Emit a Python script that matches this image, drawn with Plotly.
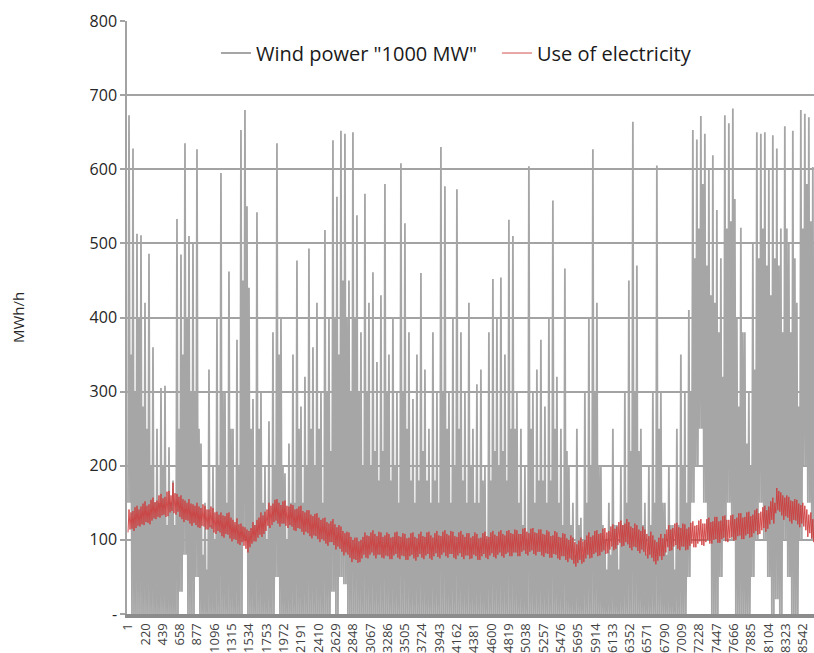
import plotly.graph_objects as go

# ---- data ----
tick_hours = [1, 220, 439, 658, 877, 1096, 1315, 1534, 1753, 1972, 2191, 2410, 2629, 2848,
              3067, 3286, 3505, 3724, 3943, 4162, 4381, 4600, 4819, 5038, 5257, 5476, 5695,
              5914, 6133, 6352, 6571, 6790, 7009, 7228, 7447, 7666, 7885, 8104, 8323, 8542]
tick_labels = [str(h) for h in tick_hours]

y_ticks = [0, 100, 200, 300, 400, 500, 600, 700, 800]
y_labels = ["-", "100", "200", "300", "400", "500", "600", "700", "800"]

COLUMN_HOURS = 50.6  # one sampled block of hours

# column maxima of wind power
wind_high = [
    673, 628, 513, 511, 420, 486, 360, 250, 305, 308,
    225, 180, 533, 485, 635, 510, 500, 627, 230, 150,
    330, 200, 400, 595, 300, 462, 250, 370, 653, 680,
    440, 290, 542, 300, 200, 260, 380, 635, 400, 190,
    230, 350, 477, 280, 320, 493, 360, 420, 300, 518,
    400, 639, 563, 652, 648, 450, 650, 538, 380, 567,
    420, 461, 340, 430, 580, 350, 400, 300, 608, 527,
    380, 290, 350, 460, 330, 250, 380, 300, 630, 577,
    300, 400, 573, 380, 300, 420, 250, 310, 330, 200,
    380, 452, 400, 454, 350, 532, 510, 300, 250, 200,
    604, 300, 330, 370, 280, 400, 558, 320, 250, 466,
    200, 150, 250, 130, 300, 400, 627, 420, 200, 100,
    150, 250, 120, 200, 300, 450, 664, 470, 250, 150,
    200, 300, 605, 300, 150, 200, 120, 250, 350, 300,
    410, 653, 640, 672, 648, 600, 619, 545, 480, 673,
    662, 682, 400, 521, 380, 300, 500, 650, 648, 650,
    600, 646, 628, 520, 658, 500, 652, 420, 680, 675,
    670, 603]

# secondary (smaller) wind peaks inside each column
wind_mid = [
    350, 300, 400, 280, 250, 200, 150, 150, 200, 120,
    150, 120, 250, 350, 400, 300, 300, 250, 80, 60,
    120, 100, 200, 300, 150, 250, 120, 200, 450, 550,
    250, 120, 250, 150, 100, 120, 200, 350, 200, 100,
    150, 150, 250, 150, 200, 250, 200, 250, 150, 300,
    220, 400, 350, 450, 400, 300, 400, 300, 200, 300,
    200, 220, 180, 220, 300, 180, 200, 150, 300, 250,
    180, 150, 180, 220, 180, 150, 180, 150, 300, 250,
    150, 200, 250, 180, 150, 200, 150, 150, 180, 100,
    180, 220, 200, 220, 180, 250, 250, 150, 120, 100,
    250, 150, 180, 180, 150, 180, 250, 150, 120, 220,
    120, 80, 120, 80, 150, 200, 300, 200, 120, 60,
    80, 120, 60, 120, 150, 220, 300, 220, 120, 80,
    120, 150, 250, 150, 80, 120, 60, 120, 200, 150,
    300, 480, 520, 580, 470, 430, 420, 380, 320, 520,
    530, 560, 280, 380, 230, 200, 330, 480, 520, 470,
    430, 480, 470, 380, 520, 380, 480, 280, 520, 580,
    530, 430]

# column minima of wind power
wind_low = [
    150, 0, 0, 0, 0, 0, 0, 0, 0, 0,
    0, 0, 0, 30, 80, 0, 0, 50, 0, 0,
    0, 0, 0, 0, 0, 0, 0, 0, 0, 100,
    0, 0, 0, 0, 0, 0, 0, 50, 0, 0,
    0, 0, 0, 0, 0, 0, 0, 0, 0, 0,
    0, 30, 0, 50, 40, 0, 0, 0, 0, 0,
    0, 0, 0, 0, 0, 0, 0, 0, 0, 0,
    0, 0, 0, 0, 0, 0, 0, 0, 0, 0,
    0, 0, 0, 0, 0, 0, 0, 0, 0, 0,
    0, 0, 0, 0, 0, 0, 0, 0, 0, 0,
    0, 0, 0, 0, 0, 0, 0, 0, 0, 0,
    0, 0, 0, 0, 0, 0, 0, 0, 0, 0,
    0, 0, 0, 0, 0, 0, 0, 0, 0, 0,
    0, 0, 0, 0, 0, 0, 0, 0, 0, 0,
    50, 150, 200, 250, 150, 100, 0, 0, 50, 100,
    150, 100, 0, 0, 0, 0, 50, 100, 150, 100,
    50, 0, 20, 0, 100, 50, 0, 0, 100, 200,
    150, 100]

# use of electricity: daily swing, four readings per column (low, high, low, high)
use_values = [
    110, 141, 114, 137, 115, 139, 112, 144,
    116, 146, 119, 141, 118, 145, 121, 149,
    120, 152, 124, 146, 123, 148, 121, 154,
    126, 157, 129, 151, 128, 153, 131, 160,
    130, 162, 133, 156, 134, 158, 131, 165,
    132, 166, 137, 160, 139, 177, 136, 163,
    134, 162, 138, 158, 131, 160, 128, 155,
    124, 153, 127, 150, 126, 155, 122, 149,
    119, 148, 123, 146, 120, 150, 117, 145,
    116, 143, 119, 148, 118, 146, 114, 141,
    114, 141, 117, 145, 115, 143, 110, 137,
    108, 138, 112, 134, 110, 137, 105, 133,
    103, 132, 108, 136, 107, 137, 102, 130,
    98, 127, 101, 124, 100, 129, 95, 121,
    93, 122, 97, 118, 92, 117, 88, 114,
    83, 112, 90, 116, 95, 124, 98, 120,
    98, 127, 103, 130, 107, 137, 104, 133,
    108, 138, 112, 141, 119, 150, 116, 146,
    120, 149, 124, 154, 126, 155, 122, 150,
    118, 147, 122, 152, 122, 153, 119, 146,
    116, 145, 120, 148, 118, 147, 113, 141,
    112, 142, 116, 145, 115, 146, 111, 139,
    107, 137, 111, 140, 109, 140, 105, 134,
    102, 132, 106, 135, 105, 136, 101, 130,
    97, 127, 101, 129, 99, 130, 95, 124,
    92, 122, 97, 125, 97, 128, 93, 121,
    87, 117, 91, 120, 88, 118, 84, 112,
    79, 109, 83, 111, 80, 110, 76, 104,
    70, 100, 74, 103, 73, 103, 69, 98,
    70, 100, 75, 104, 80, 110, 76, 106,
    75, 105, 80, 110, 83, 113, 79, 108,
    75, 105, 80, 111, 80, 110, 76, 104,
    75, 106, 79, 110, 78, 108, 74, 103,
    74, 104, 79, 110, 81, 111, 76, 105,
    74, 104, 79, 109, 78, 108, 73, 102,
    73, 103, 78, 109, 80, 110, 75, 104,
    72, 102, 77, 108, 81, 111, 76, 105,
    74, 104, 79, 110, 81, 111, 75, 106,
    73, 103, 78, 109, 82, 112, 77, 106,
    75, 105, 80, 111, 83, 113, 78, 108,
    76, 106, 81, 112, 81, 111, 76, 105,
    74, 104, 79, 110, 82, 112, 77, 107,
    74, 104, 79, 109, 79, 109, 74, 103,
    75, 105, 80, 110, 78, 108, 73, 102,
    73, 103, 78, 109, 81, 111, 76, 105,
    74, 104, 79, 110, 82, 112, 77, 107,
    75, 105, 80, 111, 83, 113, 78, 108,
    76, 106, 81, 112, 83, 113, 78, 109,
    78, 108, 83, 114, 83, 113, 78, 108,
    78, 108, 84, 115, 86, 116, 81, 111,
    79, 109, 84, 115, 86, 116, 81, 110,
    79, 109, 84, 114, 84, 114, 79, 108,
    77, 107, 82, 113, 81, 111, 76, 105,
    76, 106, 81, 112, 80, 110, 75, 104,
    73, 103, 78, 109, 78, 108, 73, 102,
    70, 100, 75, 106, 73, 103, 68, 97,
    64, 94, 69, 99, 73, 103, 68, 98,
    70, 100, 75, 106, 80, 110, 75, 104,
    76, 106, 81, 112, 83, 113, 78, 108,
    79, 109, 84, 115, 86, 116, 81, 110,
    82, 112, 87, 118, 91, 121, 86, 115,
    88, 118, 93, 124, 96, 126, 91, 120,
    92, 122, 97, 128, 94, 124, 89, 118,
    86, 116, 91, 122, 90, 120, 85, 114,
    82, 112, 87, 118, 84, 114, 79, 108,
    75, 105, 80, 111, 76, 106, 71, 100,
    67, 97, 72, 103, 78, 108, 73, 102,
    78, 108, 83, 114, 90, 120, 85, 114,
    86, 116, 91, 122, 93, 123, 88, 117,
    86, 116, 91, 122, 91, 121, 86, 115,
    87, 117, 92, 123, 95, 125, 90, 119,
    90, 120, 95, 126, 98, 128, 93, 122,
    92, 122, 97, 128, 100, 130, 95, 124,
    95, 125, 100, 131, 101, 131, 96, 125,
    96, 126, 101, 132, 103, 133, 98, 127,
    97, 127, 102, 133, 104, 134, 99, 128,
    100, 130, 105, 136, 106, 136, 101, 130,
    101, 131, 106, 137, 108, 138, 103, 132,
    104, 134, 109, 140, 112, 142, 107, 136,
    108, 138, 113, 144, 116, 146, 111, 140,
    115, 145, 121, 152, 127, 157, 122, 150,
    136, 170, 140, 166, 138, 164, 133, 160,
    127, 157, 132, 160, 130, 158, 125, 153,
    122, 152, 127, 155, 126, 154, 121, 149,
    117, 147, 122, 150, 118, 146, 113, 141,
    104, 134, 109, 137, 102, 128, 97, 122]


def wind_path(lows, highs, mids):
    xs, ys = [], []
    for i, (lo, hi, mid) in enumerate(zip(lows, highs, mids)):
        start = 1 + i * COLUMN_HOURS
        xs += [start, start + COLUMN_HOURS * 0.25, start + COLUMN_HOURS * 0.5,
               start + COLUMN_HOURS * 0.75]
        ys += [lo, hi, lo, mid]
    return xs, ys


wx, wy = wind_path(wind_low, wind_high, wind_mid)
ux = [1 + k * COLUMN_HOURS / 4 for k in range(len(use_values))]

FONT = "Open Sans"
fig = go.Figure()
fig.add_trace(go.Scatter(x=wx, y=wy, mode="lines", name='Wind power "1000 MW"',
                         line=dict(color="#a6a6a6", width=1.8)))
fig.add_trace(go.Scatter(x=ux, y=use_values, mode="lines", name="Use of electricity",
                         line=dict(color="#cf3b3b", width=0.9)))

fig.update_layout(
    width=814, height=653,
    margin=dict(l=127, r=0, t=21, b=39),
    paper_bgcolor="white", plot_bgcolor="white",
    font=dict(family=FONT, color="#262626"),
    showlegend=True,
    legend=dict(orientation="h", x=0.1295, xanchor="left", y=0.946, yanchor="middle",
                font=dict(size=20, color="#1a1a1a"), bgcolor="rgba(255,255,255,0)",
                itemwidth=30, entrywidth=236, entrywidthmode="pixels"),
    xaxis=dict(range=[-11.6, 8681], tickmode="array", tickvals=tick_hours,
               ticktext=tick_labels, tickangle=-90, tickfont=dict(size=13, color="#404040"),
               showgrid=False, zeroline=False, showline=True, linecolor="#8c8c8c",
               linewidth=4, ticks="", fixedrange=True, automargin=False),
    yaxis=dict(range=[0, 800], tickmode="array", tickvals=y_ticks,
               ticktext=y_labels,
               tickfont=dict(size=16, color="#262626"), showgrid=True, gridcolor="#a3a3a3",
               gridwidth=2, zeroline=False, showline=True, linecolor="#a3a3a3", linewidth=1.5,
               ticks="outside", ticklen=5, tickcolor="#a3a3a3", tickwidth=1.5,
               automargin=False, fixedrange=True,
               title=dict(text="MWh/h", font=dict(size=15, color="#262626"), standoff=61)),
)

fig.write_html("out.html", config={"displayModeBar": False},
               post_script="document.body.style.margin='0';document.body.style.padding='0';")
